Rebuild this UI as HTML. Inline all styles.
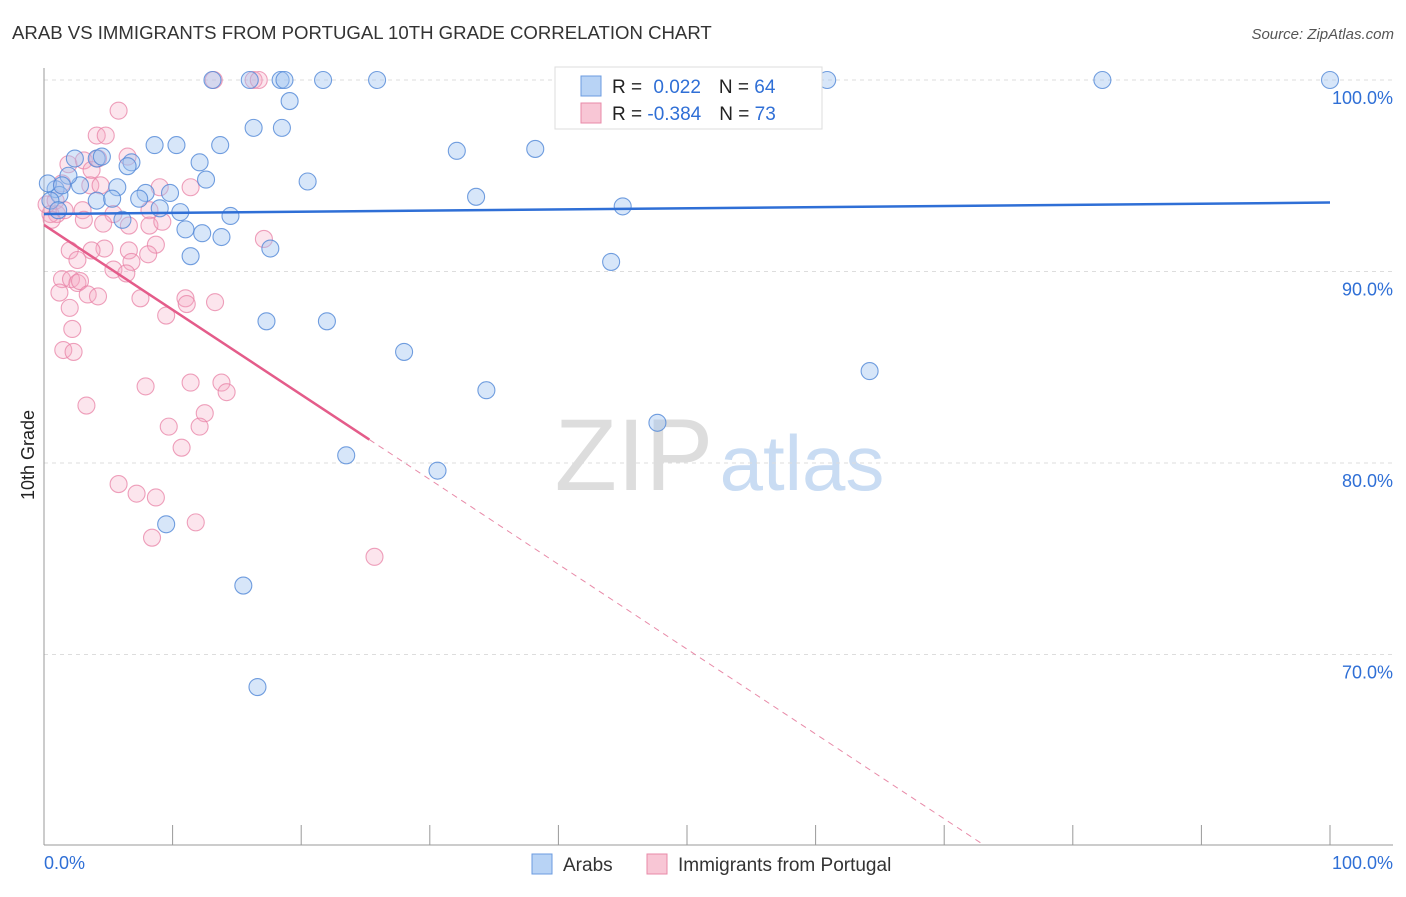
<!DOCTYPE html>
<html><head><meta charset="utf-8"><style>
body{margin:0;background:#fff;font-family:"Liberation Sans",sans-serif;}
svg text{font-family:"Liberation Sans",sans-serif;}
</style></head><body>
<svg id="c" width="1406" height="892">
<text x="12" y="39" font-size="18.6" fill="#333">ARAB VS IMMIGRANTS FROM PORTUGAL 10TH GRADE CORRELATION CHART</text>
<text x="1394" y="39" font-size="15" fill="#555" text-anchor="end" font-style="italic">Source: ZipAtlas.com</text>
<text x="634" y="490" font-size="102" fill="#ddd" text-anchor="middle" font-family="Liberation Serif">ZIP</text>
<text x="802" y="490" font-size="78" fill="#c9dcf3" text-anchor="middle">atlas</text>
<text transform="translate(34,455) rotate(-90)" font-size="18" fill="#222" text-anchor="middle">10th Grade</text>
<g id="grid"></g><g id="pts"></g><g id="trend"></g>
<g>
<rect x="555" y="67" width="267" height="62" fill="#fff" stroke="#ddd"/>
<rect x="581" y="76" width="20" height="20" fill="#b8d3f5" stroke="#6b9be0"/>
<rect x="581" y="103" width="20" height="20" fill="#f8c6d5" stroke="#e88aa8"/>
<text x="612" y="93" font-size="19" fill="#222">R = <tspan fill="#2f6fd6" dx="6">0.022</tspan><tspan dx="18" fill="#222">N = </tspan><tspan fill="#2f6fd6">64</tspan></text>
<text x="612" y="120" font-size="19" fill="#222">R = <tspan fill="#2f6fd6">-0.384</tspan><tspan dx="18" fill="#222">N = </tspan><tspan fill="#2f6fd6">73</tspan></text>
</g>
<g>
<rect x="532" y="854" width="20" height="20" fill="#b8d3f5" stroke="#6b9be0"/>
<text x="563" y="871" font-size="19" fill="#333">Arabs</text>
<rect x="647" y="854" width="20" height="20" fill="#f8c6d5" stroke="#e88aa8"/>
<text x="678" y="871" font-size="19" fill="#333">Immigrants from Portugal</text>
</g>
</svg>
<script>
const xTicks=[0,10,20,30,40,50,60,70,80,90,100];
const yTicks=[100,90,80,70];
const yTickLabels=["100.0%","90.0%","80.0%","70.0%"];
const arabX=[13.1,16.0,18.4,18.7,21.7,25.9,47.1,60.9,82.3,100,19.1,16.3,18.5,8.6,10.3,13.7,32.1,38.2,12.1,2.4,4.1,6.8,6.5,4.5,20.5,12.6,5.7,2.8,1.9,7.9,9.8,7.4,4.1,5.3,33.6,45.0,9.0,10.6,14.5,6.1,11.0,12.3,13.8,17.6,11.4,44.1,17.3,22.0,28.0,64.2,34.4,47.7,23.5,30.6,9.5,15.5,16.6,0.9,1.2,0.5,1.1,0.3,1.4];
const arabY=[100,100,100,100,100,100,100,100,100,100,98.9,97.5,97.5,96.6,96.6,96.6,96.3,96.4,95.7,95.9,95.9,95.7,95.5,96.0,94.7,94.8,94.4,94.5,95.0,94.1,94.1,93.8,93.7,93.8,93.9,93.4,93.3,93.1,92.9,92.7,92.2,92.0,91.8,91.2,90.8,90.5,87.4,87.4,85.8,84.8,83.8,82.1,80.4,79.6,76.8,73.6,68.3,94.3,94.0,93.7,93.2,94.6,94.5];
const portX=[13.2,16.3,16.7,5.8,4.1,4.8,6.5,1.9,3.1,3.7,4.2,3.6,4.4,1.4,9.0,11.4,3.0,8.2,5.4,6.6,3.1,4.6,8.2,9.2,1.0,0.5,0.2,0.9,0.6,1.6,8.7,6.6,4.7,2.0,3.7,8.1,2.6,6.8,5.4,6.4,1.4,2.1,2.6,2.8,1.2,3.4,4.2,7.5,11.0,13.3,11.1,9.5,17.1,2.0,2.2,1.5,2.3,7.9,11.4,13.8,14.2,12.5,3.3,9.7,12.1,10.7,5.8,7.2,8.7,11.8,8.4,25.7];
const portY=[100,100,100,98.4,97.1,97.1,96.0,95.6,95.8,95.3,95.9,94.5,94.5,94.6,94.4,94.4,93.2,93.2,93.0,92.4,92.7,92.5,92.4,92.6,93.0,93.0,93.5,93.7,92.7,93.2,91.4,91.1,91.2,91.1,91.1,90.9,90.6,90.5,90.1,89.9,89.6,89.6,89.4,89.5,88.9,88.8,88.7,88.6,88.6,88.4,88.3,87.7,91.7,88.1,87.0,85.9,85.8,84.0,84.2,84.2,83.7,82.6,83.0,81.9,81.9,80.8,78.9,78.4,78.2,76.9,76.1,75.1];
const arabTrend=[93.0,93.6];
const portTrend=[92.43,48.13];
const portSolidEnd=25.3;
const NS="http://www.w3.org/2000/svg";
function sx(v){return 44+v*12.86;}
function sy(v){return 80+(100-v)*19.15;}
function mk(t,a,p){const e=document.createElementNS(NS,t);for(const k in a)e.setAttribute(k,a[k]);p.appendChild(e);return e;}
const grid=document.getElementById('grid');
yTicks.forEach((t,i)=>{
 const l=mk('line',{x1:44,x2:1393,y1:sy(t),y2:sy(t),stroke:'#ddd','stroke-dasharray':'4,4'},grid);
 
 
 const tx=mk('text',{x:1393,y:sy(t)+24,'font-size':18,fill:'#2f6fd6','text-anchor':'end'},grid);
 tx.textContent=yTickLabels[i];
 
 
});
const ax=mk('line',{x1:44,x2:44,y1:68,y2:845,stroke:'#999'},grid);


const bx=mk('line',{x1:44,x2:1393,y1:845,y2:845,stroke:'#999'},grid);


xTicks.forEach(t=>{
 const l=mk('line',{x1:sx(t),x2:sx(t),y1:825,y2:845,stroke:'#999'},grid);
 
 
});
[[0,'0.0%','start',44],[100,'100.0%','end',1393]].forEach(d=>{
 const tx=mk('text',{x:d[3],y:869,'font-size':18,fill:'#2f6fd6','text-anchor':d[2]},grid);
 tx.textContent=d[1];
 
 
});
const pts=document.getElementById('pts');
portX.forEach((x,i)=>{
 const c=mk('circle',{cx:sx(x),cy:sy(portY[i]),r:8.5,fill:'rgba(245,170,195,0.3)',stroke:'rgba(232,130,165,0.75)','stroke-width':1.1},pts);
 
 
});
arabX.forEach((x,i)=>{
 const c=mk('circle',{cx:sx(x),cy:sy(arabY[i]),r:8.5,fill:'rgba(160,195,240,0.42)',stroke:'rgba(80,135,215,0.8)','stroke-width':1.1},pts);
 
 
});
const tr=document.getElementById('trend');
const a=mk('line',{x1:sx(0),y1:sy(arabTrend[0]),x2:sx(100),y2:sy(arabTrend[1]),stroke:'#2f6fd6','stroke-width':2.5},tr);


function py(x){return portTrend[0]+(portTrend[1]-portTrend[0])*x/100;}
const p1=mk('line',{x1:sx(0),y1:sy(py(0)),x2:sx(portSolidEnd),y2:sy(py(portSolidEnd)),stroke:'#e45c8a','stroke-width':2.5},tr);


const endX=(60.05-portTrend[0])/(portTrend[1]-portTrend[0])*100;
const p2=mk('line',{x1:sx(portSolidEnd),y1:sy(py(portSolidEnd)),x2:sx(endX),y2:sy(py(endX)),stroke:'#e88aa8','stroke-width':1,'stroke-dasharray':'6,5'},tr);


</script>
</body></html>
